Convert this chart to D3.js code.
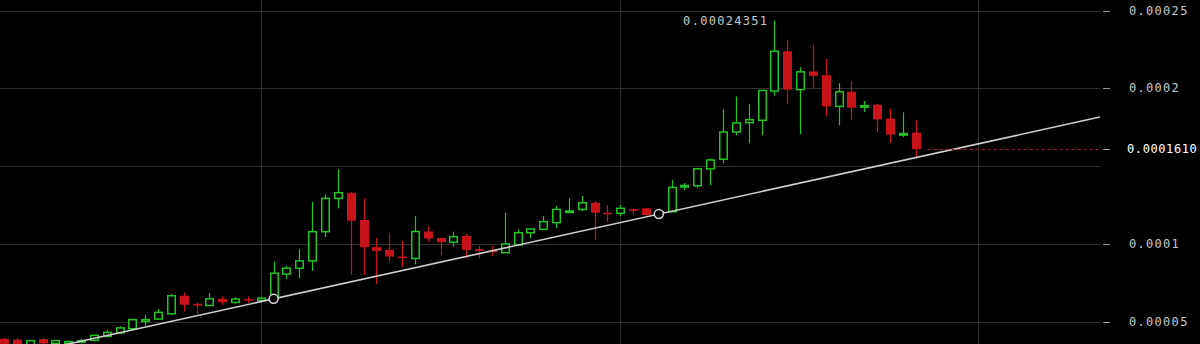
<!DOCTYPE html>
<html>
<head>
<meta charset="utf-8">
<script src="https://cdn.jsdelivr.net/npm/d3@7"></script>
<style>
  html, body { margin: 0; padding: 0; background: #000; overflow: hidden; }
  svg { display: block; }
  text { font-family: "DejaVu Sans Mono", monospace; font-size: 12px; letter-spacing: 1.3px; }
</style>
</head>
<body>
<svg id="chart" width="1200" height="344"></svg>
<script>
// ---- data (values in price units) ----
const opens  = [38.9,38.5,35,38.8,36,36,37.6,38.0,40.6,42.8,45.5,50.2,51.7,55.1,66.7,61.5,60.4,64.7,62.4,64.6,63.7,
  66.0,80.6,84.4,89.1,107.9,129.3,132.9,115.4,97.9,96.2,91.9,90.7,108.0,103.8,101.1,105.1,96.6,95.7,94.4,99.4,107.2,
  109.4,113.7,120.3,122.2,126.5,120.1,119.7,122.4,122.9,119.5,120.7,137.0,137.4,148.3,154.5,172.0,178.0,179.5,198.3,
  223.9,199.2,210.9,208.5,188.5,197.9,188.6,189.5,180.6,170.6,171.6].map(v => v * 1e-6);
const highs  = [39.6,39.2,38.2,39.5,38.5,38,39,41.8,44.9,47.0,51.9,54.4,58.1,67.8,68.8,62.3,68.4,66.2,65.7,66.2,65.7,
  88.7,85.9,96.6,127.1,131.9,148.1,133.5,129.3,103.7,107.2,102.1,117.9,111.1,104.2,107.9,106.4,98.7,98.7,120.1,109.4,110.3,
  117.9,124.4,129.5,130.8,127.6,125.0,125.0,122.6,123.2,122.4,141.0,139.1,149.0,155.0,186.7,194.9,190.2,199.0,243.51,
  231.2,213.7,228.2,219.0,203.4,204.7,191.9,190.0,187.0,184.6,179.5].map(v => v * 1e-6);
const lows   = [33,33,34,34,35,35,36,37.5,39.7,42.3,44.9,47.4,51.3,54.5,56.6,55.1,60.3,60.9,61.5,62.0,63.5,
  64.7,77.4,78.0,82.7,104.3,122.9,80.1,80.1,74.4,88.7,85.3,86.9,101.5,92.9,98.3,90.7,90.8,92.3,94.2,98.7,103.7,
  109.0,110.3,119.9,121.3,102.6,114.3,117.9,118.6,118.3,119.2,120.5,134.6,136.0,137.8,151.9,169.9,164.9,169.9,195.3,
  190.2,170.5,200.4,182.0,176.3,179.9,184.8,172.0,164.9,168.8,155.3].map(v => v * 1e-6);
const closes = [35,35.5,37.8,36,37.8,37.2,37.8,41.2,43.1,46.0,51.3,51.3,56.0,66.7,60.9,60.4,64.7,62.6,64.6,63.7,65.2,
  81.2,84.4,89.1,107.9,129.3,132.9,114.9,97.9,95.5,91.9,91.2,108.0,103.5,101.1,104.7,96.2,95.5,94.9,100.0,107.2,109.6,
  114.3,122.2,121.2,126.5,120.1,119.2,122.9,121.3,118.6,120.7,136.3,137.6,148.3,154.0,172.0,177.8,179.9,198.7,223.9,
  199.2,210.7,208.1,188.5,197.9,187.6,188.9,180.1,170.3,171.0,161.0].map(v => v * 1e-6);
const categories = opens.map((_, i) => i);          // candle slots
const gridIndices = [20, 48, 75.85];                 // vertical grid positions (slots)
const gridValues  = [0.00005, 0.0001, 0.00015, 0.0002, 0.00025];
const tickValues  = [0.00005, 0.0001, 0.0002, 0.00025];
const tickLabels  = ["0.00005", "0.0001", "0.0002", "0.00025"];
const lastPriceLabel = "0.0001610";
const highLabel = "0.00024351";
const trendAnchors = [21, 51];                       // candles whose lows define the trend line

// ---- layout ----
const W = 1200, H = 344, plotRight = 1100;
const GREEN = "#22c322", RED = "#c8131b";
const svg = d3.select("#chart");
svg.append("rect").attr("width", W).attr("height", H).attr("fill", "#000");

const x = d3.scaleLinear().domain([0, 71]).range([4, 915.6]);
const y = d3.scaleLinear().domain([0.00005, 0.00025]).range([321.7, 10.7]);

svg.append("defs").append("clipPath").attr("id", "plot")
  .append("rect").attr("x", 0).attr("y", 0).attr("width", plotRight).attr("height", H);

// grid
const grid = svg.append("g");
grid.selectAll("line.h").data(gridValues).join("line")
  .attr("x1", 0).attr("x2", plotRight)
  .attr("y1", d => Math.round(y(d)) + 0.5).attr("y2", d => Math.round(y(d)) + 0.5)
  .attr("stroke", "#2f2f2f").attr("stroke-width", 1);
grid.selectAll("line.v").data(gridIndices).join("line")
  .attr("x1", d => Math.round(x(d)) + 0.5).attr("x2", d => Math.round(x(d)) + 0.5)
  .attr("y1", 0).attr("y2", H)
  .attr("stroke", "#2f2f2f").attr("stroke-width", 1);

// candles
const plot = svg.append("g").attr("clip-path", "url(#plot)");
const bw = 9;
const candles = plot.selectAll("g.c").data(categories).join("g");
candles.append("line")
  .attr("x1", i => Math.round(x(i)) + 0.5).attr("x2", i => Math.round(x(i)) + 0.5)
  .attr("y1", i => y(highs[i])).attr("y2", i => y(lows[i]))
  .attr("stroke", i => closes[i] >= opens[i] ? GREEN : RED).attr("stroke-width", 1.2);
candles.append("rect")
  .attr("x", i => Math.round(x(i)) + 0.5 - (closes[i] >= opens[i] ? (bw - 1.5) / 2 : bw / 2))
  .attr("width", i => closes[i] >= opens[i] ? bw - 1.5 : bw)
  .attr("y", i => y(Math.max(opens[i], closes[i])))
  .attr("height", i => Math.max(1.5, Math.abs(y(opens[i]) - y(closes[i]))))
  .attr("fill", i => closes[i] >= opens[i] ? "#000" : RED)
  .attr("stroke", i => closes[i] >= opens[i] ? GREEN : "none")
  .attr("stroke-width", 1.5);

// trend line through two lows
const [a, b] = trendAnchors;
const slope = (lows[b] - lows[a]) / (b - a);
const tx = x.invert(plotRight);
const lineGen = d3.line().x(d => x(d)).y(d => y(lows[a] + slope * (d - a)));
plot.append("path").datum([0, tx]).attr("d", lineGen)
  .attr("stroke", "#cfcfcf").attr("stroke-width", 1.6).attr("fill", "none");
plot.selectAll("circle.anchor").data(trendAnchors).join("circle")
  .attr("cx", d => x(d)).attr("cy", d => y(lows[d])).attr("r", 4.5)
  .attr("fill", "#000").attr("stroke", "#d8d8d8").attr("stroke-width", 1.5);

// last price dashed line
const last = closes[closes.length - 1];
svg.append("line")
  .attr("x1", x(71) + 12).attr("x2", plotRight)
  .attr("y1", Math.round(y(last)) + 0.5).attr("y2", Math.round(y(last)) + 0.5)
  .attr("stroke", "#a81a1a").attr("stroke-width", 1).attr("stroke-dasharray", "3,3");

// highest high label
const hiIdx = d3.maxIndex(highs);
svg.append("text").attr("x", x(hiIdx) - 6).attr("y", y(highs[hiIdx]))
  .attr("text-anchor", "end").attr("dominant-baseline", "central")
  .attr("fill", "#c8c8c8").text(highLabel);

// right axis
const axis = svg.append("g");
const allTicks = tickValues.map((v, k) => ({ v, label: tickLabels[k], cur: false }))
  .concat([{ v: last, label: lastPriceLabel, cur: true }]);
axis.selectAll("line").data(allTicks).join("line")
  .attr("x1", 1103).attr("x2", 1110)
  .attr("y1", d => Math.round(y(d.v)) + 0.5).attr("y2", d => Math.round(y(d.v)) + 0.5)
  .attr("stroke", "#9a9a9a").attr("stroke-width", 1);
axis.selectAll("text").data(allTicks).join("text")
  .attr("x", d => d.cur ? 1127 : 1129).attr("y", d => y(d.v))
  .attr("dominant-baseline", "central")
  .style("letter-spacing", d => d.cur ? "0.6px" : null)
  .attr("fill", d => d.cur ? "#ffffff" : "#c8c8c8")
  .text(d => d.label);
</script>
</body>
</html>
